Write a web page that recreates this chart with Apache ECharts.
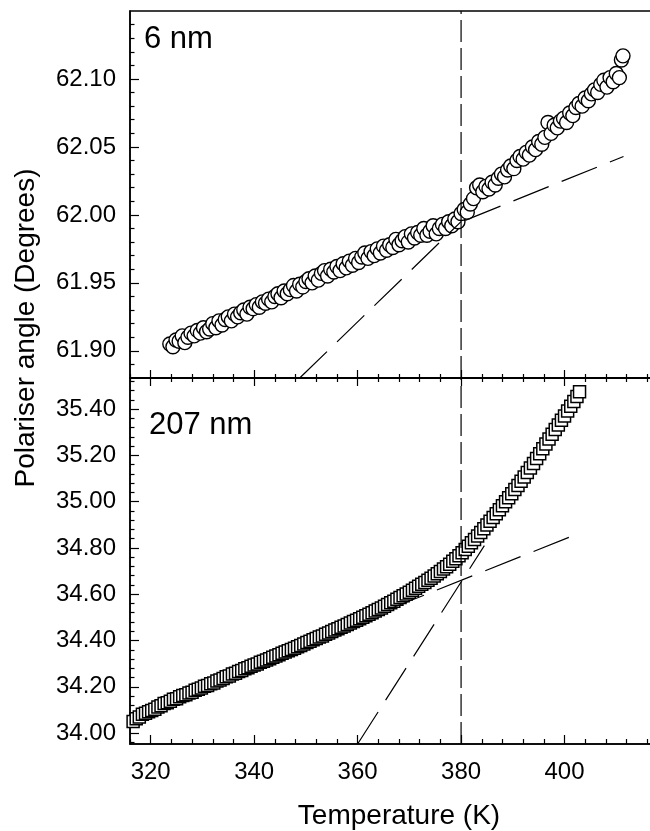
<!DOCTYPE html>
<html>
<head>
<meta charset="utf-8">
<script src="https://cdn.jsdelivr.net/npm/echarts@6.0.0/dist/echarts.min.js"></script>
<style>
  html, body { margin: 0; padding: 0; background: #fff; }
  #chart { width: 650px; height: 831px; }
</style>
</head>
<body>
<div id="chart"></div>
<script>
// 6 nm film: temperature (K) and polariser angle (degrees)
var tempTop = [323.7, 324.3, 324.9, 325.5, 326.1, 326.6, 327.2, 327.8, 328.4, 329.0, 329.6, 330.2, 330.8, 331.4,
  332.0, 332.6, 333.2, 333.8, 334.4, 335.0, 335.6, 336.2, 336.8, 337.4, 338.0, 338.6, 339.2, 339.8, 340.4,
  341.0, 341.6, 342.2, 342.8, 343.4, 344.0, 344.6, 345.2, 345.8, 346.4, 347.0, 347.6, 348.2, 348.8, 349.4,
  350.0, 350.6, 351.2, 351.8, 352.4, 353.0, 353.6, 354.2, 354.8, 355.4, 356.0, 356.6, 357.2, 357.8, 358.4,
  359.0, 359.6, 360.2, 360.8, 361.4, 362.0, 362.6, 363.2, 363.8, 364.4, 365.0, 365.6, 366.2, 366.8, 367.4,
  368.0, 368.6, 369.2, 369.8, 370.4, 371.0, 371.6, 372.2, 372.8, 373.4, 374.0, 374.6, 375.2, 375.8, 376.4,
  377.0, 377.6, 378.2, 378.8, 379.4, 380.0, 380.6, 381.2, 381.8, 382.4, 383.0, 383.6, 384.2, 384.8, 385.4,
  386.0, 386.6, 387.2, 387.8, 388.4, 389.0, 389.6, 390.2, 390.8, 391.4, 392.0, 392.6, 393.2, 393.8, 394.4,
  395.0, 395.6, 396.2, 396.8, 397.4, 398.0, 398.6, 399.2, 399.8, 400.4, 401.0, 401.6, 402.2, 402.8, 403.4,
  404.0, 404.6, 405.2, 405.8, 406.4, 407.0, 407.6, 408.2, 408.8, 409.4, 410.0, 410.6, 411.0, 411.3];
var angleTop = [61.905, 61.903, 61.908, 61.907, 61.911, 61.906, 61.910, 61.913, 61.911, 61.915, 61.913, 61.917, 61.914, 61.916,
  61.920, 61.917, 61.922, 61.919, 61.923, 61.925, 61.922, 61.927, 61.925, 61.928, 61.930, 61.927, 61.932, 61.931, 61.934,
  61.932, 61.936, 61.935, 61.938, 61.936, 61.940, 61.942, 61.939, 61.944, 61.942, 61.945, 61.948, 61.944, 61.949, 61.947,
  61.951, 61.953, 61.950, 61.955, 61.952, 61.957, 61.959, 61.955, 61.960, 61.958, 61.962, 61.959, 61.964, 61.961, 61.966,
  61.963, 61.968, 61.965, 61.969, 61.972, 61.968, 61.973, 61.970, 61.975, 61.972, 61.977, 61.974, 61.978, 61.976, 61.982,
  61.978, 61.981, 61.984, 61.980, 61.986, 61.983, 61.987, 61.985, 61.990, 61.985, 61.988, 61.992, 61.986, 61.990, 61.993,
  61.990, 61.995, 61.992, 61.997, 61.995, 62.001, 62.004, 62.002, 62.008, 62.012, 62.020, 62.022, 62.017, 62.021, 62.019,
  62.024, 62.022, 62.027, 62.030, 62.028, 62.033, 62.036, 62.034, 62.040, 62.043, 62.041, 62.046, 62.044, 62.050, 62.048,
  62.054, 62.052, 62.057, 62.068, 62.060, 62.066, 62.064, 62.069, 62.071, 62.068, 62.075, 62.073, 62.079, 62.082, 62.080,
  62.086, 62.084, 62.089, 62.092, 62.090, 62.096, 62.099, 62.094, 62.101, 62.098, 62.104, 62.101, 62.114, 62.117];

// 207 nm film
var tempBottom = [316.6, 317.2, 317.8, 318.4, 319.0, 319.6, 320.2, 320.8, 321.4, 322.0, 322.6, 323.2, 323.8, 324.4,
  325.0, 325.6, 326.2, 326.8, 327.4, 328.0, 328.6, 329.2, 329.8, 330.4, 331.0, 331.6, 332.2, 332.8, 333.4,
  334.0, 334.6, 335.2, 335.8, 336.4, 337.0, 337.6, 338.2, 338.8, 339.4, 340.0, 340.6, 341.2, 341.8, 342.4,
  343.0, 343.6, 344.2, 344.8, 345.4, 346.0, 346.6, 347.2, 347.8, 348.4, 349.0, 349.6, 350.2, 350.8, 351.4,
  352.0, 352.6, 353.2, 353.8, 354.4, 355.0, 355.6, 356.2, 356.8, 357.4, 358.0, 358.6, 359.2, 359.8, 360.4,
  361.0, 361.6, 362.2, 362.8, 363.4, 364.0, 364.6, 365.2, 365.8, 366.4, 367.0, 367.6, 368.2, 368.8, 369.4,
  370.0, 370.6, 371.2, 371.8, 372.4, 373.0, 373.6, 374.2, 374.8, 375.4, 376.0, 376.6, 377.2, 377.8, 378.4,
  379.0, 379.6, 380.2, 380.8, 381.4, 382.0, 382.6, 383.2, 383.8, 384.4, 385.0, 385.6, 386.2, 386.8, 387.4,
  388.0, 388.6, 389.2, 389.8, 390.4, 391.0, 391.6, 392.2, 392.8, 393.4, 394.0, 394.6, 395.2, 395.8, 396.4,
  397.0, 397.6, 398.2, 398.8, 399.4, 400.0, 400.6, 401.2, 401.8, 402.4, 402.9];
var angleBottom = [34.050, 34.062, 34.070, 34.081, 34.086, 34.092, 34.098, 34.103, 34.113, 34.118, 34.128, 34.131, 34.138, 34.146,
  34.149, 34.157, 34.162, 34.166, 34.173, 34.177, 34.185, 34.189, 34.195, 34.202, 34.206, 34.213, 34.217, 34.225, 34.229,
  34.236, 34.243, 34.247, 34.255, 34.259, 34.266, 34.270, 34.278, 34.282, 34.289, 34.294, 34.299, 34.306, 34.310, 34.316,
  34.321, 34.328, 34.333, 34.338, 34.345, 34.350, 34.356, 34.361, 34.367, 34.373, 34.379, 34.385, 34.391, 34.397, 34.403,
  34.409, 34.415, 34.420, 34.427, 34.433, 34.439, 34.445, 34.451, 34.457, 34.463, 34.469, 34.476, 34.482, 34.488, 34.494,
  34.500, 34.507, 34.513, 34.520, 34.527, 34.534, 34.541, 34.548, 34.556, 34.563, 34.570, 34.578, 34.586, 34.593, 34.601,
  34.609, 34.617, 34.626, 34.634, 34.643, 34.651, 34.660, 34.669, 34.679, 34.688, 34.698, 34.709, 34.719, 34.730, 34.742,
  34.753, 34.766, 34.779, 34.793, 34.807, 34.822, 34.836, 34.852, 34.867, 34.883, 34.899, 34.915, 34.931, 34.948, 34.965,
  34.982, 34.999, 35.017, 35.034, 35.052, 35.070, 35.088, 35.106, 35.126, 35.145, 35.165, 35.186, 35.207, 35.228, 35.249,
  35.270, 35.291, 35.312, 35.331, 35.351, 35.370, 35.391, 35.412, 35.433, 35.454, 35.475];

// dashed guide lines [temperature, angle]
var fitTopSteep = [[348.8, 61.880], [380.0, 61.995]];
var fitTopFlat = [[380.8, 61.996], [411.4, 62.043]];
var fitBotSteep = [[360.0, 33.953], [384.5, 34.810]];
var fitBotFlat = [[366.0, 34.535], [402.9, 34.864]];
var transitionT = 380;

// axis ranges and ticks
var xRange = [316, 420];
var topRange = [61.88, 62.15];
var botRange = [33.953, 35.534];
var xMajor = [320, 340, 360, 380, 400, 420];
var xMinor = [316, 324, 328, 332, 336, 344, 348, 352, 356, 364, 368, 372, 376, 384, 388, 392, 396, 404, 408, 412, 416];
var topMajor = [61.90, 61.95, 62.00, 62.05, 62.10];
var topMinor = [61.89, 61.91, 61.92, 61.93, 61.94, 61.96, 61.97, 61.98, 61.99, 62.01, 62.02, 62.03, 62.04,
  62.06, 62.07, 62.08, 62.09, 62.11, 62.12, 62.13, 62.14];
var botMajor = [34.00, 34.20, 34.40, 34.60, 34.80, 35.00, 35.20, 35.40];
var botMinor = [33.96, 34.04, 34.08, 34.12, 34.16, 34.24, 34.28, 34.32, 34.36, 34.44, 34.48, 34.52, 34.56,
  34.64, 34.68, 34.72, 34.76, 34.84, 34.88, 34.92, 34.96, 35.04, 35.08, 35.12, 35.16, 35.24, 35.28, 35.32,
  35.36, 35.44, 35.48, 35.52];

var FONT = 'Liberation Sans, Arial, sans-serif';

function xAx(grid, pos, ticks, len, labels, lineOn) {
  return {
    type: 'value', gridIndex: grid, position: pos, min: xRange[0], max: xRange[1],
    axisLine: { show: lineOn, lineStyle: { color: '#000', width: 1.5 } },
    axisTick: { show: true, inside: true, length: len, customValues: ticks, lineStyle: { color: '#000', width: 1.2 } },
    axisLabel: labels ? { show: true, customValues: labels, color: '#000', fontSize: 24, fontFamily: FONT, margin: 16 } : { show: false },
    splitLine: { show: false }
  };
}
function yAx(grid, range, ticks, len, labels, lineOn) {
  return {
    type: 'value', gridIndex: grid, position: 'left', min: range[0], max: range[1],
    axisLine: { show: lineOn, lineStyle: { color: '#000', width: 1.5 } },
    axisTick: { show: true, inside: true, length: len, customValues: ticks, lineStyle: { color: '#000', width: 1.2 } },
    axisLabel: labels ? {
      show: true, customValues: labels, color: '#000', fontSize: 24, fontFamily: FONT, margin: 14,
      formatter: function (v) { return v.toFixed(2); }
    } : { show: false },
    splitLine: { show: false }
  };
}

var xBottomMain = xAx(1, 'bottom', xMajor, 9, xMajor.slice(0, 5), true);
xBottomMain.name = 'Temperature (K)';
xBottomMain.nameLocation = 'middle';
xBottomMain.nameGap = 58;
xBottomMain.nameTextStyle = { color: '#000', fontSize: 28, fontFamily: FONT };

function dashLine(xi, yi, pts, dash) {
  return {
    type: 'line', xAxisIndex: xi, yAxisIndex: yi, data: pts, symbol: 'none', silent: true,
    lineStyle: { color: '#000', width: 1.2, type: dash }
  };
}

var chart = echarts.init(document.getElementById('chart'), null, { renderer: 'canvas' });
chart.setOption({
  animation: false,
  backgroundColor: '#fff',
  grid: [
    { left: 130, top: 11, width: 538, height: 367, show: true, borderColor: '#000', borderWidth: 1.5, outerBoundsMode: 'none' },
    { left: 130, top: 378, width: 538, height: 366, show: true, borderColor: '#000', borderWidth: 1.5, outerBoundsMode: 'none' }
  ],
  xAxis: [
    xAx(0, 'bottom', xMajor, 8, null, true),
    xAx(0, 'bottom', xMinor, 4, null, false),
    xAx(1, 'top', xMajor, 8, null, true),
    xAx(1, 'top', xMinor, 4, null, false),
    xBottomMain,
    xAx(1, 'bottom', xMinor, 5, null, false)
  ],
  yAxis: [
    yAx(0, topRange, topMajor, 9, topMajor, true),
    yAx(0, topRange, topMinor, 4.5, null, false),
    yAx(1, botRange, botMajor, 9, botMajor, true),
    yAx(1, botRange, botMinor, 4.5, null, false)
  ],
  graphic: [
    { type: 'text', x: 144, y: 39, style: { text: '6 nm', font: '31px ' + FONT, fill: '#000', verticalAlign: 'middle' } },
    { type: 'text', x: 149, y: 425, style: { text: '207 nm', font: '31px ' + FONT, fill: '#000', verticalAlign: 'middle' } },
    { type: 'text', x: 26, y: 328, rotation: Math.PI / 2,
      style: { text: 'Polariser angle (Degrees)', font: '28px ' + FONT, fill: '#000', align: 'center', verticalAlign: 'middle' } }
  ],
  series: [
    dashLine(0, 0, [[transitionT, topRange[0]], [transitionT, topRange[1]]], [22, 6]),
    dashLine(0, 0, fitTopSteep, [38, 14]),
    dashLine(0, 0, fitTopFlat, [38, 14]),
    dashLine(4, 2, [[transitionT, botRange[0]], [transitionT, botRange[1]]], [22, 6]),
    dashLine(4, 2, fitBotSteep, [38, 14]),
    dashLine(4, 2, fitBotFlat, [38, 14]),
    {
      type: 'scatter', xAxisIndex: 0, yAxisIndex: 0, symbol: 'circle', symbolSize: 14,
      itemStyle: { color: '#fff', borderColor: '#000', borderWidth: 1.4, opacity: 1 },
      data: tempTop.map(function (t, i) { return [t, angleTop[i]]; })
    },
    {
      type: 'scatter', xAxisIndex: 4, yAxisIndex: 2, symbol: 'rect', symbolSize: 12,
      itemStyle: { color: '#fff', borderColor: '#000', borderWidth: 1.5, opacity: 1 },
      data: tempBottom.map(function (t, i) { return [t, angleBottom[i]]; })
    }
  ]
});
</script>
</body>
</html>
